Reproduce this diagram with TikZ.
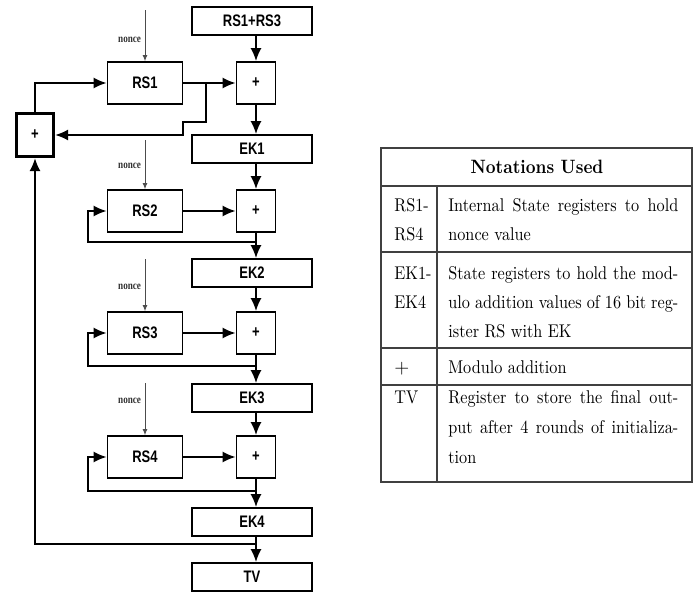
\documentclass[tikz,border=0pt]{standalone}
\usepackage{fontspec}
\usepackage{tikz}
\usetikzlibrary{arrows.meta}
\newfontfamily\boxfont[FakeStretch=0.78]{Liberation Sans}
\newfontfamily\noncefont[FakeStretch=0.8]{Liberation Serif}
\newfontfamily\tabfont{lmroman10-regular.otf}[FakeStretch=0.88,BoldFont=lmroman10-bold.otf]
\newcommand{\fullline}[1]{\makebox[4.6cm][s]{#1}}

\begin{document}
\begin{tikzpicture}[x=0.02cm,y=-0.02cm,
  reg/.style={draw,line width=1pt,minimum width=2.4cm,minimum height=0.56cm,inner sep=0pt,font=\boxfont\bfseries\fontsize{9.5}{10}\selectfont},
  rs/.style={reg,minimum width=1.5cm,minimum height=0.84cm},
  add/.style={reg,minimum width=0.78cm,minimum height=0.84cm},
  arr/.style={line width=1pt,-{Latex[length=2.6mm,width=2.2mm]}},
  thinarr/.style={line width=0.5pt,black!70,-{Latex[length=1.2mm,width=1mm]}},
  nlbl/.style={font=\noncefont\bfseries\fontsize{6.5}{7}\selectfont,black!80,inner sep=2pt},
  tfont/.style={font=\tabfont\fontsize{10.5}{12}\selectfont,inner sep=0pt,anchor=base west}]
\useasboundingbox (0,0) rectangle (694,592);

% registers and adders
\node[reg] (top) at (252,21) {RS1+RS3};
\node[rs] (rs1) at (145,83) {RS1};
\node[add] (p1) at (256,83) {+};
\node[add,line width=1.8pt,minimum width=0.74cm,minimum height=0.86cm] (bigp) at (35,135) {+};
\node[reg] (ek1) at (252,149) {EK1};
\node[rs] (rs2) at (145,211) {RS2};
\node[add] (p2) at (256,211) {+};
\node[reg] (ek2) at (252,273) {EK2};
\node[rs] (rs3) at (145,333) {RS3};
\node[add] (p3) at (256,333) {+};
\node[reg] (ek3) at (252,398) {EK3};
\node[rs] (rs4) at (145,457) {RS4};
\node[add] (p4) at (256,457) {+};
\node[reg] (ek4) at (252,522) {EK4};
\node[reg] (tv) at (252,577) {TV};

% nonce inputs
\coordinate (n1) at (145,10);
\coordinate (n2) at (145,140);
\coordinate (n3) at (145,259);
\coordinate (n4) at (145,383);
\draw[thinarr] (n1) -- (rs1) node[nlbl,pos=0.58,left] {nonce};
\draw[thinarr] (n2) -- (rs2) node[nlbl,pos=0.52,left] {nonce};
\draw[thinarr] (n3) -- (rs3) node[nlbl,pos=0.53,left] {nonce};
\draw[thinarr] (n4) -- (rs4) node[nlbl,pos=0.34,left] {nonce};

% round 1
\draw[arr] (top.south -| p1) -- (p1);
\draw[arr] (rs1) -- (p1);
\draw[arr] (rs1.east) ++(23,0) -- ++(0,39) -- ++(-23,0) |- (bigp);
\draw[arr] (bigp) |- (rs1);
\draw[arr] (p1) -- (ek1.north -| p1);

% round 2
\draw[arr] (ek1.south -| p2) -- (p2);
\draw[arr] (rs2) -- (p2);
\draw[arr] (p2) -- (ek2.north -| p2);
\coordinate (j2) at (256,242);
\draw[arr] (j2) -- (88,242) |- (rs2);

% round 3
\draw[arr] (ek2.south -| p3) -- (p3);
\draw[arr] (rs3) -- (p3);
\draw[arr] (p3) -- (ek3.north -| p3);
\coordinate (j3) at (256,366);
\draw[arr] (j3) -- (88,366) |- (rs3);

% round 4
\draw[arr] (ek3.south -| p4) -- (p4);
\draw[arr] (rs4) -- (p4);
\draw[arr] (p4) -- (ek4.north -| p4);
\coordinate (j4) at (256,491);
\draw[arr] (j4) -- (88,491) |- (rs4);

% output and feedback
\draw[arr] (ek4.south -| p4) -- (tv.north -| p4);
\coordinate (j5) at (256,544);
\draw[arr] (j5) -| (bigp);

% notation table
\draw[line width=0.8pt,black!75] (381,148) rectangle (692,482);
\draw[line width=0.8pt,black!75] (381,186) -- (692,186);
\draw[line width=0.8pt,black!75] (381,252) -- (692,252);
\draw[line width=0.8pt,black!75] (381,348) -- (692,348);
\draw[line width=0.8pt,black!75] (381,385) -- (692,385);
\draw[line width=0.8pt,black!75] (437,186) -- (437,482);

\node[font=\tabfont\bfseries\fontsize{11}{12}\selectfont] (hdr) at (537,167) {Notations Used};

\node[tfont] at (394,211) {RS1-};
\node[tfont] at (394,240) {RS4};
\node[tfont] at (448,211) {\fullline{Internal State registers to hold}};
\node[tfont] at (448,240) {nonce value};

\node[tfont] at (394,279) {EK1-};
\node[tfont] at (394,308) {EK4};
\node[tfont] at (448,279) {\fullline{State registers to hold the mod-}};
\node[tfont] at (448,308) {\fullline{ulo addition values of 16 bit reg-}};
\node[tfont] at (448,337) {ister RS with EK};

\node[tfont] at (394,373) {$+$};
\node[tfont] at (448,373) {Modulo addition};

\node[tfont] at (394,403) {TV};
\node[tfont] at (448,403) {\fullline{Register to store the final out-}};
\node[tfont] at (448,433) {\fullline{put after 4 rounds of initializa-}};
\node[tfont] at (448,463) {tion};

\end{tikzpicture}
\end{document}
